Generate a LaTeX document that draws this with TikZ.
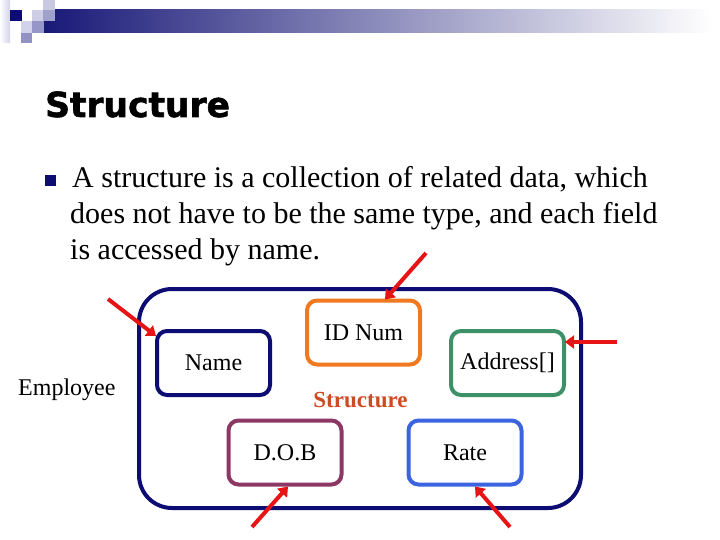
\documentclass[tikz,border=0pt]{standalone}
\usepackage{fontspec}
\setmainfont{Liberation Serif}
\newfontfamily\titlefont[BoldFeatures={FakeBold=1.6}]{DejaVu Sans}
\usetikzlibrary{arrows.meta}
\definecolor{navy}{RGB}{12,12,115}
\definecolor{orng}{RGB}{240,120,30}
\definecolor{grn}{RGB}{60,145,105}
\definecolor{purp}{RGB}{140,55,100}
\definecolor{blu}{RGB}{60,100,225}
\definecolor{arrred}{RGB}{230,20,20}
\definecolor{lbl}{RGB}{205,75,35}
\definecolor{sqA}{RGB}{200,200,225}
\definecolor{sqB}{RGB}{205,205,230}
\definecolor{sqC}{RGB}{160,160,205}
\definecolor{sqD}{RGB}{210,210,235}
\definecolor{sqE}{RGB}{150,150,200}
\definecolor{sqF}{RGB}{145,145,195}
\definecolor{barL}{RGB}{25,25,120}
\definecolor{barM}{RGB}{165,165,195}
\tikzset{
  field/.style={draw, line width=4pt, rounded corners=10pt, minimum width=113pt, minimum height=64pt, inner sep=0pt, outer sep=0pt, font=\fontsize{24}{28}\selectfont},
  arr/.style={draw=arrred, line width=4pt, -{Triangle[length=9pt,width=13pt]}},
  bodytext/.style={anchor=base west, inner sep=0pt, font=\fontsize{30}{35}\selectfont}
}
\begin{document}
\begin{tikzpicture}[x=1pt,y=-1pt]
\useasboundingbox (0,0) rectangle (720,540);
% header decoration
\shade[left color=white, right color=sqD] (0,0) rectangle (10,43);
\shade[left color=barL, middle color=barM, right color=white] (44,10) rectangle (712,33);
\fill[sqA] (43,0) rectangle (55,10);
\fill[navy] (10,10) rectangle (22,21);
\fill[sqB] (32,10) rectangle (43,21);
\fill[sqC] (43,10) rectangle (55,21);
\fill[sqD] (21,21) rectangle (32,33);
\fill[sqE] (32,21) rectangle (44,33);
\fill[sqF] (21,33) rectangle (32,43);
% title
\node[anchor=base west, inner sep=0pt, font=\titlefont\bfseries\fontsize{34.5}{40}\selectfont] (title) at (45,117) {Structure};
% bullet text
\node[fill=navy, minimum size=11pt, inner sep=0pt] (bullet) at (50.5,180.5) {};
\node[bodytext] (l1) at (72,188) {A structure is a collection of related data, which};
\node[bodytext] (l2) at (70,223) {does not have to be the same type, and each field};
\node[bodytext] (l3) at (70,259) {is accessed by name.};
% big box
\draw[navy, line width=4pt, rounded corners=33pt] (139,289) rectangle (581,508);
\node[anchor=base west, inner sep=0pt, font=\fontsize{24}{28}\selectfont] (emp) at (18,395) {Employee};
\node[anchor=base, inner sep=0pt, text=lbl, font=\bfseries\fontsize{23}{27}\selectfont] (slabel) at (360.5,407) {Structure};
% fields
\node[field, draw=navy] (name) at (213.5,363) {Name};
\node[field, draw=orng] (idnum) at (363.5,332.5) {ID Num};
\node[field, draw=grn] (addr) at (507.5,363) {Address[]};
\node[field, draw=purp] (dob) at (285,452.5) {D.O.B};
\node[field, draw=blu] (rate) at (465,452.5) {Rate};
% arrows
\coordinate (t1) at (108,299);
\coordinate (t2) at (426,253);
\coordinate (t3) at (617,342);
\coordinate (t4) at (252,527);
\coordinate (t5) at (510,527);
\draw[arr] (t1) -- ([xshift=-1pt,yshift=-5pt]name.north west);
\draw[arr] (t2) -- ([xshift=21.5pt,yshift=1pt]idnum.north);
\draw[arr] (t3) -- ([xshift=1pt,yshift=21pt]addr.east);
\draw[arr] (t4) -- ([xshift=3pt,yshift=-2pt]dob.south);
\draw[arr] (t5) -- ([xshift=10pt,yshift=-2pt]rate.south);
\end{tikzpicture}
\end{document}
